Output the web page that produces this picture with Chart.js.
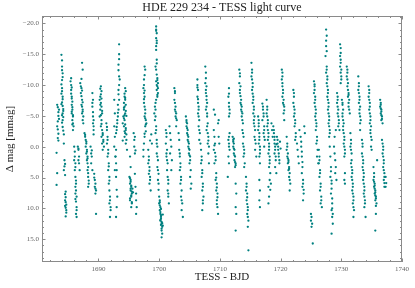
<!DOCTYPE html>
<html>
<head>
<meta charset="utf-8">
<script src="https://cdn.jsdelivr.net/npm/chart.js@4/dist/chart.umd.min.js"></script>
<style>
html,body{margin:0;padding:0;background:#fff;}
#wrap{width:415px;height:288px;}
</style>
</head>
<body>
<div id="wrap"><canvas id="c" width="415" height="288"></canvas></div>
<script>
const TITLE = 'HDE 229 234 - TESS light curve';
const X_LABEL = 'TESS - BJD';
const Y_LABEL = 'Δ mag [mmag]';
const xTicks = [1690, 1700, 1710, 1720, 1730, 1740];
const yTicks = [-20, -15, -10, -5, 0, 5, 10, 15];

// [BJD, Δmag]
const orbit1 = [
[1683.2,-6.8],[1683.3,-6.4],[1683.4,-5.0],[1683.3,-4.1],[1683.2,-3.3],[1683.4,-2.1],[1683.3,-1.4],[1683.1,1.0],[1683.2,4.3],[1683.1,6.2],
[1683.5,-6.0],[1683.4,-5.6],[1683.5,-4.5],[1683.3,-2.8],[1683.4,-1.0],
[1683.9,-14.9],[1684.0,-13.0],[1684.0,-12.4],[1684.1,-11.3],[1684.0,-10.8],[1684.0,-9.5],[1683.9,-8.6],[1684.1,-8.1],[1684.0,-7.2],[1684.1,-6.6],[1684.2,-6.1],[1684.1,-5.4],[1684.2,-4.8],[1684.0,-3.9],[1684.1,-3.2],[1684.2,-2.6],[1684.3,-0.5],[1684.4,2.2],[1684.5,2.8],[1684.3,3.8],[1684.5,4.6],[1684.6,7.3],[1684.5,7.7],[1684.6,9.0],[1684.7,9.4],[1684.6,9.9],[1684.7,10.3],[1684.6,11.3],
[1684.0,-14.0],[1684.1,-11.9],[1683.9,-10.1],[1684.0,-9.0],[1684.1,-7.7],[1683.9,-6.9],[1684.2,-5.8],[1684.0,-5.1],[1684.1,-4.3],[1684.3,-2.0],[1684.4,3.2],[1684.6,8.2],[1684.5,8.7],[1684.7,10.7],[1684.5,9.6],
[1685.5,-11.1],[1685.4,-10.6],[1685.5,-10.0],[1685.6,-9.6],[1685.5,-8.6],[1685.6,-8.1],[1685.7,-7.3],[1685.6,-6.8],[1685.7,-6.0],[1685.6,-5.4],[1685.8,-4.9],[1685.7,-4.3],[1685.8,-3.8],[1685.9,-3.3],[1685.8,-2.7],
[1685.5,-9.2],[1685.6,-7.8],[1685.7,-6.4],[1685.6,-5.7],[1685.8,-5.1],[1685.7,-3.6],
[1686.0,0.0],[1686.1,1.6],[1686.0,2.2],[1686.2,2.7],[1686.1,3.8],[1686.2,4.9],[1686.3,6.0],[1686.2,6.5],[1686.3,7.1],[1686.2,7.6],[1686.4,8.1],[1686.3,8.9],[1686.4,9.8],[1686.3,10.9],[1686.4,11.4],
[1686.1,0.8],[1686.2,3.3],[1686.3,5.5],[1686.2,8.5],[1686.4,10.3],
[1687.3,-13.6],[1687.4,-12.5],[1687.0,-10.3],[1687.1,-9.8],[1687.2,-9.5],[1687.1,-8.7],[1687.3,-7.6],[1687.2,-6.8],[1687.3,-6.5],[1687.4,-6.0],[1687.3,-5.4],[1687.5,-4.9],[1687.4,-4.3],
[1687.2,-11.0],[1687.3,-9.1],[1687.2,-8.2],[1687.4,-7.2],[1687.4,-5.7],[1687.5,-3.8],
[1686.6,0.0],[1686.7,0.3],[1686.7,0.5],[1686.8,1.6],[1686.7,2.2],[1686.8,2.7],[1686.9,3.8],
[1687.7,-2.2],[1687.8,-1.6],[1687.9,-1.1],[1688.0,-0.5],[1687.9,0.0],[1688.1,0.5],[1688.0,1.1],[1688.2,1.6],[1688.1,2.2],[1688.2,2.7],[1688.3,3.3],[1688.2,3.8],[1688.3,4.9],[1688.4,6.0],[1688.3,6.5],
[1687.8,-1.9],[1688.0,-0.8],[1688.1,0.8],[1688.2,1.9],[1688.3,4.3],[1688.4,5.5],
[1689.0,-8.7],[1689.1,-7.6],[1689.0,-6.5],[1689.1,-4.9],[1689.2,-4.3],[1689.1,-3.8],[1689.2,-3.3],[1689.2,-2.7],
[1688.7,0.0],[1688.8,1.1],[1688.9,1.6],[1688.8,2.7],[1689.0,3.8],[1689.3,4.4],[1689.4,5.4],[1689.5,6.0],[1689.4,6.5],[1689.6,7.1],[1689.5,7.6],[1689.6,10.9],
[1689.0,-7.1],[1689.1,-5.6],[1689.2,-2.0],[1688.9,0.6],[1689.3,5.0],[1689.5,6.8],
[1690.4,-9.8],[1690.5,-9.0],[1690.3,-8.1],[1690.2,-7.6],[1690.4,-7.1],[1690.5,-6.5],[1690.3,-6.0],[1690.6,-5.4],[1690.2,-4.9],[1690.5,-4.3],[1690.4,-3.3],[1690.6,-2.7],[1690.7,-2.2],[1690.5,-1.6],[1690.8,-1.1],[1690.6,-0.5],[1690.9,0.0],[1690.7,0.5],
[1690.3,-9.4],[1690.4,-8.5],[1690.5,-7.8],[1690.3,-6.8],[1690.6,-5.8],[1690.4,-5.1],[1690.5,-3.7],[1690.7,-1.9],[1690.8,-0.8],
[1691.3,-3.8],[1691.4,-2.7],[1691.5,-1.6],[1691.4,-0.5],[1691.6,0.5],[1691.5,1.6],[1691.7,2.7],[1691.6,3.8],[1691.8,4.9],[1691.7,6.0],[1691.8,7.1],[1691.9,8.1],[1691.8,9.2],[1692.0,10.3],[1691.9,11.4],
[1691.4,-3.2],[1691.5,-1.1],[1691.6,1.1],[1691.7,3.2],[1691.8,5.5],[1691.9,8.7],[1692.0,9.8],
[1692.6,-7.6],[1692.7,-5.4],[1692.6,-3.3],[1692.7,-1.6],[1692.6,0.0],[1692.8,1.6],[1692.7,3.8],
[1693.4,-16.6],[1693.4,-15.0],[1693.3,-13.3],[1693.4,-11.4],[1693.5,-10.9],[1693.3,-9.2],[1693.4,-7.6],[1693.3,-6.0],[1693.2,-4.9],[1693.1,-3.8],[1693.0,-2.7],[1692.9,-2.2],[1692.9,0.5],[1692.8,1.6],[1692.9,2.7],[1693.0,3.8],[1692.9,4.9],[1693.0,7.0],[1693.1,8.1],[1693.0,9.8],[1692.9,11.4],
[1693.4,-14.2],[1693.3,-12.4],[1693.4,-10.0],[1693.3,-8.5],[1693.2,-6.8],[1693.2,-5.5],[1693.1,-4.3],[1693.0,-3.2],
[1694.4,-9.5],[1694.5,-9.0],[1694.3,-8.1],[1694.4,-7.6],[1694.2,-7.1],[1694.5,-6.8],[1694.3,-6.5],[1694.2,-6.0],[1694.4,-5.4],[1694.1,-4.9],[1694.3,-4.3],[1694.0,-3.8],[1694.2,-3.3],[1694.5,-2.7],[1694.4,-2.2],[1694.3,-1.6],[1694.6,-1.1],[1694.5,-0.5],[1694.7,0.5],[1694.6,-5.0],[1694.0,-1.0],
[1694.3,-8.6],[1694.4,-7.9],[1694.2,-6.3],[1694.5,-5.8],[1694.3,-5.1],[1694.2,-4.6],[1694.4,-3.6],[1694.5,-3.0],[1694.6,-2.0],[1694.3,-2.5],
[1695.2,1.6],[1695.3,3.3],[1695.1,4.9],[1695.3,5.4],[1695.2,6.0],[1695.4,6.5],[1695.3,7.1],[1695.5,7.6],[1695.4,8.1],[1695.2,8.7],[1695.5,9.2],[1695.4,9.8],[1695.6,6.8],[1695.7,7.4],[1695.8,-2.2],[1695.9,-1.1],[1695.9,0.0],[1696.0,1.1],[1696.0,4.4],[1696.1,6.5],[1696.2,7.6],[1696.2,8.7],[1696.3,9.8],[1696.2,10.9],
[1695.2,5.1],[1695.3,5.7],[1695.4,6.3],[1695.3,6.8],[1695.5,7.3],[1695.4,7.9],[1695.2,8.4],[1695.5,9.0],[1696.0,-1.6],[1696.1,0.6]
];

const orbit2 = [
[1697.6,-13.0],[1697.7,-12.5],[1697.5,-10.9],[1697.4,-9.5],[1697.5,-8.7],[1697.6,-8.1],[1697.5,-7.1],[1697.6,-6.5],[1697.7,-5.4],[1697.6,-4.9],[1697.8,-4.3],[1697.7,-3.3],[1697.8,-2.5],[1697.6,-1.6],[1697.5,-0.5],[1697.4,0.5],[1697.4,1.6],[1697.9,-3.8],
[1697.6,-11.6],[1697.5,-10.0],[1697.6,-9.1],[1697.5,-7.7],[1697.7,-6.0],[1697.7,-4.6],[1697.8,-3.6],[1697.6,-2.1],
[1698.2,0.5],[1698.3,1.6],[1698.2,2.7],[1698.4,3.3],[1698.3,4.4],[1698.5,5.4],[1698.4,6.0],[1698.6,7.1],[1698.5,-1.0],[1698.7,-2.0],[1698.8,-0.5],
[1698.3,2.2],[1698.4,3.9],[1698.5,4.9],
[1699.5,-19.5],[1699.5,-19.0],[1699.6,-18.4],[1699.5,-17.6],[1699.6,-16.8],[1699.5,-15.7],[1699.6,-14.1],[1699.4,-13.0],[1699.5,-12.5],[1699.6,-11.7],[1699.7,-11.1],[1699.5,-10.6],[1699.8,-10.3],[1699.7,-9.8],[1699.6,-9.2],[1699.8,-8.7],[1699.7,-8.1],[1699.4,-7.1],[1699.3,-6.5],
[1699.5,-18.8],[1699.6,-17.2],[1699.5,-16.3],[1699.6,-13.5],[1699.7,-10.8],[1699.6,-10.0],[1699.8,-9.5],[1699.7,-8.4],[1699.5,-7.6],
[1699.4,-6.0],[1699.2,-5.4],[1699.3,-4.3],[1699.5,-3.3],[1699.4,-2.2],[1699.6,-1.1],[1699.7,0.0],[1699.6,1.1],[1699.8,2.2],[1699.7,3.3],[1699.9,4.4],[1699.8,5.4],[1699.9,7.0],
[1699.4,-4.9],[1699.5,-2.7],[1699.6,-0.5],[1699.7,1.6],[1699.8,3.8],[1699.9,6.0],
[1700.0,8.1],[1700.1,8.7],[1700.0,9.2],[1700.2,9.8],[1700.1,10.3],[1700.2,10.9],[1700.3,11.4],[1700.2,12.0],[1700.4,12.5],[1700.3,11.7],[1700.5,13.0],[1700.4,13.6],[1700.6,12.8],[1700.5,14.1],[1700.4,14.7],[1700.6,11.0],
[1700.1,9.5],[1700.2,10.6],[1700.3,11.1],[1700.2,11.9],[1700.4,12.2],[1700.3,12.7],[1700.5,12.4],[1700.4,13.3],[1700.1,9.0],[1700.3,10.1],
[1701.1,-2.7],[1701.2,-1.6],[1701.1,-0.5],[1701.3,0.5],[1701.2,1.6],[1701.4,2.7],[1701.3,3.8],[1701.4,4.9],[1701.5,6.0],[1701.4,7.1],[1701.5,8.1],[1701.6,9.2],
[1701.2,-2.2],[1701.2,1.1],[1701.3,2.2],[1701.5,5.4],[1701.5,7.6],
[1701.7,-3.3],[1701.8,-2.2],[1701.9,-1.1],[1702.0,0.0],[1701.8,1.1],[1702.1,2.2],[1702.0,3.8],
[1702.5,-9.5],[1702.6,-8.7],[1702.5,-7.6],[1702.7,-6.5],[1702.6,-6.0],[1702.8,-5.4],[1702.7,-4.9],[1702.9,-4.3],[1702.8,-3.3],
[1702.6,-9.0],[1702.6,-7.1],[1702.7,-5.7],[1702.8,-4.6],
[1703.2,-2.2],[1703.3,-1.1],[1703.3,0.5],[1703.4,1.6],[1703.5,2.7],[1703.4,3.8],[1703.6,4.9],[1703.5,6.0],[1703.7,7.1],[1703.6,8.1],[1703.8,9.2],[1703.7,10.3],[1703.9,11.4],
[1703.4,1.1],[1703.5,3.3],[1703.6,5.4],[1703.7,8.7],
[1704.4,-4.9],[1704.5,-4.3],[1704.6,-3.8],[1704.5,-3.3],[1704.7,-2.7],[1704.6,-2.2],[1704.8,-1.6],[1704.7,-1.1],[1704.9,-0.5],[1704.8,0.0],[1705.0,0.5],[1704.9,1.1],[1705.1,1.6],[1705.0,2.7],[1705.2,3.8],[1705.1,4.9],[1705.3,6.0],[1705.2,6.8],
[1704.5,-4.0],[1704.6,-3.0],[1704.7,-1.9],[1704.8,-0.8],[1704.9,0.3],[1705.0,1.4],[1705.1,2.2],
[1706.3,-10.9],[1706.3,-10.0],[1706.4,-9.2],[1706.3,-8.1],[1706.4,-7.1],[1706.5,-6.5],[1706.4,-5.4],[1706.6,-4.3],[1706.5,-3.3],[1706.7,-2.2],[1706.6,-1.1],[1706.8,-0.5],
[1706.3,-9.6],[1706.4,-7.7],[1706.5,-6.0],[1706.5,-4.9],[1706.6,-2.7],
[1706.9,0.5],[1707.0,1.6],[1706.9,2.7],[1707.1,3.8],[1707.0,4.9],[1707.2,6.0],[1707.1,7.1],[1707.3,8.1],[1707.2,9.2],[1707.1,10.3],
[1707.0,2.2],[1707.1,4.3],[1707.2,6.5],[1707.2,8.7],
[1707.6,-13.0],[1707.7,-11.1],[1707.6,-10.3],[1707.8,-9.8],[1707.7,-8.7],[1707.8,-7.6],[1707.9,-7.1],[1707.7,-6.0],[1707.9,-4.9],[1708.0,-3.8],[1707.8,-2.7],[1708.1,-1.6],[1708.0,-0.5],[1708.2,0.0],[1708.1,1.1],[1708.2,2.7],
[1707.7,-12.0],[1707.7,-9.2],[1707.8,-8.2],[1707.8,-6.5],[1707.9,-5.4],[1707.9,-3.3],[1708.0,-2.2],[1708.1,-1.0],
[1709.0,-6.0],[1709.2,-5.2],[1709.8,-4.3],[1709.7,-3.8],[1709.0,-2.7],[1709.1,-1.6],[1709.2,-0.5],[1709.0,0.5],[1709.3,1.6],[1709.1,2.7],[1709.4,4.3],[1709.3,5.4],[1709.5,6.0],[1709.4,7.1],[1709.6,7.6],[1709.5,8.7],[1709.6,9.8],[1709.7,10.9],[1709.8,-1.6],[1709.9,-0.5],
[1709.1,-0.2],[1709.2,1.0],[1709.3,2.2],[1709.4,5.0],[1709.5,6.6],[1709.6,8.2],[1709.5,9.3]
];

const orbit3 = [
[1711.5,-9.5],[1711.4,-8.1],[1711.5,-7.1],[1711.6,-6.0],[1711.5,-4.9],[1711.6,-2.2],[1711.4,-1.1],[1711.5,-0.5],[1711.6,0.5],[1711.4,1.6],[1711.5,2.7],[1711.3,4.9],
[1711.5,-8.6],[1711.5,-6.5],[1711.6,-5.4],[1711.5,-1.6],[1711.5,0.0],
[1712.1,-1.6],[1712.2,-1.1],[1712.3,-0.5],[1712.2,0.0],[1712.4,0.5],[1712.3,1.1],[1712.5,1.6],[1712.4,2.2],[1712.6,2.7],[1712.5,3.3],[1712.6,6.0],[1712.7,7.6],[1712.6,9.8],[1712.7,10.9],[1712.6,13.6],
[1712.2,-0.8],[1712.3,0.3],[1712.4,1.4],[1712.5,2.5],[1712.6,3.0],[1712.3,-1.3],
[1713.2,-12.5],[1713.3,-11.4],[1713.2,-10.3],[1713.4,-9.8],[1713.3,-8.7],[1713.5,-7.6],[1713.4,-7.1],[1713.6,-6.5],[1713.5,-6.0],[1713.7,-5.4],[1713.6,-4.9],[1713.8,-3.8],[1713.7,-2.7],[1713.9,-1.6],[1713.8,-0.5],[1714.0,0.5],[1713.9,1.6],[1714.1,2.7],[1714.0,3.3],
[1713.3,-11.9],[1713.3,-9.2],[1713.4,-8.2],[1713.5,-6.8],[1713.6,-5.7],[1713.7,-4.3],[1713.8,-2.2],[1713.9,0.0],[1714.0,1.1],
[1714.3,4.9],[1714.4,6.0],[1714.3,7.1],[1714.5,7.6],[1714.4,8.7],[1714.6,9.8],[1714.5,10.9],[1714.7,12.0],[1714.6,13.0],[1714.7,16.8],
[1714.4,6.5],[1714.5,8.2],[1714.5,9.3],[1714.6,10.3],[1714.6,11.4],
[1715.2,-13.6],[1715.3,-12.5],[1715.2,-11.4],[1715.4,-10.3],[1715.3,-9.2],[1715.5,-8.1],[1715.4,-7.1],[1715.6,-6.0],[1715.5,-5.4],[1715.7,-4.9],[1715.6,-3.8],[1715.8,-2.7],[1715.7,-1.6],[1715.9,-0.5],[1715.8,0.5],[1716.0,1.6],
[1715.3,-12.0],[1715.3,-10.9],[1715.4,-9.7],[1715.4,-8.6],[1715.5,-7.6],[1715.6,-6.5],[1715.6,-4.3],[1715.7,-3.3],[1715.8,-1.1],
[1716.3,-4.9],[1716.4,-3.8],[1716.3,-2.7],[1716.5,-1.6],[1716.4,-0.5],[1716.6,0.5],[1716.5,1.6],[1716.6,2.7],[1716.5,5.4],[1716.6,7.1],[1716.5,8.7],[1716.6,9.8],[1717.0,-7.0],[1717.1,-6.5],[1717.2,-5.4],[1717.0,-4.3],[1717.3,-3.3],[1717.2,-2.2],[1717.4,-1.1],[1717.3,0.0],
[1716.4,-4.3],[1716.4,-3.3],[1716.5,-2.2],[1716.5,-1.1],[1716.6,0.0],[1716.6,1.1],[1717.1,-6.0],[1717.2,-4.9],[1717.3,-2.7],[1717.3,-1.6],
[1717.7,-7.6],[1717.8,-6.5],[1717.7,-5.4],[1717.9,-4.3],[1717.8,-3.3],[1718.0,-2.2],[1717.9,-1.1],[1718.1,0.0],[1718.0,1.1],[1718.2,2.2],[1718.1,3.3],[1718.3,4.3],[1718.2,5.4],[1718.4,6.0],[1718.3,7.0],[1718.5,-3.8],[1718.6,-2.7],[1718.7,-1.6],[1718.0,6.5],[1718.1,8.1],[1718.0,9.2],
[1717.8,-6.0],[1717.8,-4.9],[1717.9,-3.8],[1717.9,-2.7],[1718.0,-1.6],[1718.1,-0.5],[1718.1,0.5],[1718.2,1.6],[1718.2,2.7],
[1718.8,-3.3],[1718.9,-2.2],[1719.0,-1.1],[1719.1,0.0],[1719.0,1.1],[1719.2,2.2],[1719.1,3.3],[1719.3,4.3],[1719.4,-1.6],[1719.5,-0.5],[1719.6,0.5],[1719.7,1.6],[1719.8,2.7],[1719.9,-0.8],[1720.0,0.3],
[1718.9,-2.7],[1719.0,-1.6],[1719.0,-0.5],[1719.1,0.5],[1719.2,1.6],[1719.5,-1.1],[1719.6,0.0],[1719.7,1.1],[1719.8,2.2],[1719.3,-0.4],
[1720.2,-12.5],[1720.3,-12.0],[1720.2,-10.9],[1720.3,-9.8],[1720.4,-9.2],[1720.3,-8.1],[1720.5,-7.6],[1720.4,-7.1],[1720.6,-6.5],[1720.5,-5.4],[1720.6,-4.3],
[1720.3,-11.4],[1720.3,-10.3],[1720.4,-8.7],[1720.5,-6.8],[1720.6,-5.9],
[1721.0,-1.6],[1721.1,-0.5],[1721.0,0.5],[1721.2,1.1],[1721.1,1.6],[1721.3,2.2],[1721.2,2.7],[1721.4,3.3],[1721.3,3.8],[1721.5,4.3],[1721.4,4.9],[1721.6,6.0],[1721.5,7.1],
[1721.1,0.0],[1721.2,1.9],[1721.3,2.5],[1721.4,3.6],[1721.5,5.4],
[1722.1,-9.2],[1722.2,-8.1],[1722.1,-7.1],[1722.3,-6.0],[1722.2,-4.9],[1722.4,-4.3],[1722.3,-3.3],[1722.5,-2.2],[1722.4,-1.1],
[1722.2,-8.7],[1722.2,-6.5],[1722.3,-5.4],[1722.4,-3.8],[1722.5,-1.6],
[1722.7,-0.5],[1722.8,0.5],[1722.9,1.6],[1723.0,2.7],[1723.1,-2.7],
[1723.3,-1.6],[1723.4,0.0],[1723.5,1.6],[1723.6,3.3],[1723.5,4.3],[1723.7,5.4],[1723.6,6.5],[1723.8,7.6],[1723.7,8.7],[1723.9,-3.3],[1724.0,-2.2],
[1723.4,-0.8],[1723.5,0.8],[1723.6,2.5],[1723.7,6.0],[1723.8,7.0]
];

const orbit4 = [
[1725.0,10.9],[1725.1,11.4],[1725.0,12.0],[1725.2,12.5],[1725.1,13.0],[1725.3,15.7],
[1725.5,-10.6],[1725.6,-9.8],[1725.5,-8.7],[1725.7,-7.6],[1725.6,-7.1],[1725.8,-6.0],[1725.7,-4.9],[1725.9,-3.8],[1725.8,-2.7],[1726.0,-1.6],[1725.9,-0.5],[1726.1,0.5],[1726.0,1.6],[1726.2,2.7],
[1725.6,-10.1],[1725.6,-9.2],[1725.7,-8.1],[1725.7,-6.5],[1725.8,-5.4],[1725.8,-4.3],[1725.9,-3.3],[1726.0,-1.0],
[1726.3,0.5],[1726.4,1.6],[1726.3,2.7],[1726.5,3.8],[1726.4,4.9],[1726.6,6.0],[1726.5,7.1],[1726.7,8.1],[1726.6,9.2],[1726.8,9.8],
[1726.4,2.2],[1726.5,4.3],[1726.6,6.5],[1726.7,8.7],
[1727.5,-19.0],[1727.6,-18.0],[1727.5,-16.3],[1727.4,-14.7],[1727.6,-13.0],[1727.5,-12.0],[1727.7,-11.4],[1727.6,-10.3],[1727.8,-9.2],[1727.7,-8.1],[1727.9,-7.1],[1727.8,-6.0],[1728.0,-4.9],[1727.9,-3.8],[1728.1,-2.7],[1728.0,-1.6],[1728.1,0.0],
[1727.5,-17.2],[1727.6,-15.5],[1727.6,-12.5],[1727.7,-10.9],[1727.7,-9.8],[1727.8,-8.7],[1727.8,-7.6],[1727.9,-6.5],[1727.9,-5.4],[1728.0,-4.3],[1728.0,-3.3],[1728.1,-2.2],
[1728.2,1.6],[1728.3,3.3],[1728.2,4.9],[1728.4,6.0],[1728.3,7.6],[1728.5,9.2],[1728.4,10.3],[1728.6,10.9],[1728.5,11.4],[1728.6,12.5],[1728.4,14.1],
[1728.3,4.0],[1728.4,5.5],[1728.4,6.8],[1728.5,8.4],[1728.5,10.0],
[1728.8,0.0],[1728.9,1.1],[1729.0,2.2],[1729.1,3.3],[1729.0,4.3],[1729.2,5.4],[1728.9,-1.6],[1729.1,-2.7],
[1729.3,-8.7],[1729.4,-8.1],[1729.3,-7.1],[1729.5,-6.0],[1729.4,-5.4],[1729.6,-4.3],[1729.5,-3.3],[1729.7,-2.7],[1729.8,-16.6],[1729.9,-16.0],[1729.8,-14.7],[1729.9,-13.6],[1729.8,-13.0],[1729.9,-12.0],[1730.0,-11.4],[1729.9,-10.3],
[1729.4,-7.6],[1729.4,-6.5],[1729.5,-4.9],[1729.6,-3.8],[1729.9,-15.2],[1729.9,-14.1],[1730.0,-12.5],[1730.0,-10.9],
[1730.1,-7.6],[1730.2,-6.8],[1730.3,-6.0],[1730.2,-4.9],[1730.4,-3.8],[1730.3,-2.7],[1730.5,-1.6],[1730.4,-0.5],[1730.6,0.5],[1730.5,1.6],[1730.6,4.3],[1730.5,5.4],[1730.6,6.0],
[1730.2,-7.1],[1730.2,-5.4],[1730.3,-4.3],[1730.3,-3.3],[1730.4,-2.2],[1730.5,-1.1],[1730.5,0.0],[1730.6,1.1],
[1730.9,-13.0],[1731.0,-12.0],[1730.9,-11.4],[1731.1,-10.3],[1731.0,-9.8],[1731.2,-8.7],[1731.1,-8.1],[1731.3,-7.6],[1731.2,-6.5],[1731.4,-5.4],
[1731.0,-12.5],[1731.0,-10.9],[1731.1,-9.2],[1731.2,-8.4],[1731.2,-7.1],[1731.3,-6.0],
[1731.5,-2.2],[1731.6,-1.1],[1731.5,0.0],[1731.7,1.1],[1731.6,2.7],[1731.8,3.8],[1731.7,4.9],[1731.9,6.0],[1731.8,7.1],[1732.0,8.1],[1731.9,9.2],[1732.1,10.3],[1732.0,11.4],
[1731.6,-0.5],[1731.6,0.5],[1731.7,2.2],[1731.7,3.3],[1731.8,4.3],[1731.8,5.4],[1731.9,6.5],[1731.9,7.6],[1732.0,8.7],[1732.0,9.8],
[1732.8,-11.4],[1732.9,-10.3],[1732.8,-9.2],[1733.0,-8.1],[1732.9,-7.1],[1733.1,-6.5],[1733.0,-5.4],[1733.2,-4.3],[1733.1,-2.7],
[1732.9,-9.8],[1732.9,-8.7],[1733.0,-7.6],[1733.0,-6.0],[1733.1,-4.9],[1733.1,-3.8],
[1733.4,-1.1],[1733.5,0.0],[1733.4,1.1],[1733.6,2.2],[1733.5,3.3],[1733.7,4.3],[1733.6,5.4],[1733.8,6.5],[1733.7,7.6],[1733.9,8.7],[1733.8,9.8],[1734.0,11.4],
[1733.5,-0.5],[1733.5,1.6],[1733.6,2.7],[1733.6,3.8],[1733.7,4.9],[1733.7,6.0],[1733.8,7.1],[1733.8,8.1],[1733.9,9.2],
[1734.5,-9.8],[1734.6,-9.2],[1734.5,-8.1],[1734.7,-7.1],[1734.6,-6.0],[1734.8,-4.9],[1734.7,-3.8],[1734.9,-3.3],[1734.8,-2.2],[1735.0,-1.1],[1734.9,0.0],[1735.0,0.5],
[1734.6,-8.7],[1734.6,-7.6],[1734.7,-6.5],[1734.7,-5.4],[1734.8,-4.3],[1734.8,-2.7],[1734.9,-1.6],
[1735.3,3.3],[1735.4,4.3],[1735.3,5.4],[1735.5,6.0],[1735.4,6.5],[1735.6,7.1],[1735.5,7.6],[1735.7,8.1],[1735.6,8.7],[1735.8,9.2],[1735.7,10.9],[1735.6,13.6],[1735.9,2.2],
[1735.4,4.9],[1735.4,5.7],[1735.5,6.3],[1735.5,6.8],[1735.6,7.4],[1735.6,7.9],[1735.7,8.4],[1735.7,9.6],
[1736.4,-7.6],[1736.5,-7.1],[1736.4,-6.5],[1736.6,-6.0],[1736.5,-5.4],[1736.7,-4.9],[1736.6,-4.3],[1736.8,-3.8],[1736.7,-1.1],[1736.9,0.0],[1736.8,1.1],[1737.0,2.2],[1736.9,3.3],[1737.1,4.3],[1737.0,5.4],[1737.1,6.5],
[1736.5,-6.8],[1736.5,-6.2],[1736.6,-5.7],[1736.6,-5.1],[1736.7,-4.5],[1736.8,-0.5],[1736.9,0.5],[1736.9,1.6],[1737.0,2.7],[1737.0,3.8],[1737.1,4.9],[1737.1,5.9],
[1737.3,4.9],[1737.4,5.9],[1737.3,6.5]
];

const X_MIN = 1680.7, X_MAX = 1740, Y_MIN = -21.2, Y_MAX = 18.7;
const X_MINOR = 2, Y_MINOR = 1;
const FRAME = '#8a8a8a';
const SERIF = "'Liberation Serif', 'DejaVu Serif', serif";

const points = orbit1.concat(orbit2, orbit3, orbit4).map(p => ({x: p[0], y: p[1]}));

const fmtY = v => (v < 0 ? '\u2212' : '') + Math.abs(v).toFixed(1);

const framePlugin = {
  id: 'frameTicks',
  afterDraw(chart) {
    const ctx = chart.ctx, a = chart.chartArea;
    const xs = chart.scales.x, ys = chart.scales.y;
    ctx.save();
    ctx.strokeStyle = FRAME;
    ctx.lineWidth = 1;
    ctx.strokeRect(a.left + 0.5, a.top + 0.5, a.right - a.left - 1, a.bottom - a.top - 1);
    ctx.beginPath();
    const major = 3.5, minor = 2;
    for (let v = Math.ceil(X_MIN / X_MINOR) * X_MINOR; v <= X_MAX; v += X_MINOR) {
      const px = Math.round(xs.getPixelForValue(v)) + 0.5;
      const L = xTicks.includes(v) ? major : minor;
      ctx.moveTo(px, a.bottom); ctx.lineTo(px, a.bottom - L);
      ctx.moveTo(px, a.top); ctx.lineTo(px, a.top + L);
    }
    for (let v = Math.ceil(Y_MIN / Y_MINOR) * Y_MINOR; v <= Y_MAX; v += Y_MINOR) {
      const py = Math.round(ys.getPixelForValue(v)) + 0.5;
      const L = yTicks.includes(v) ? major : minor;
      ctx.moveTo(a.left, py); ctx.lineTo(a.left + L, py);
      ctx.moveTo(a.right, py); ctx.lineTo(a.right - L, py);
    }
    ctx.stroke();
    ctx.fillStyle = '#222';
    ctx.font = "12px " + SERIF;
    ctx.textAlign = 'center';
    ctx.textBaseline = 'middle';
    ctx.fillText(TITLE, (a.left + a.right) / 2, 8);
    ctx.restore();
  }
};

new Chart(document.getElementById('c'), {
  type: 'scatter',
  data: {
    datasets: [{
      label: 'HDE 229 234',
      data: points,
      backgroundColor: '#008080',
      borderWidth: 0,
      pointRadius: 1.15,
      pointHoverRadius: 1.15
    }]
  },
  options: {
    responsive: false,
    animation: false,
    devicePixelRatio: 1,
    layout: {padding: {top: 16, right: 13, left: 0, bottom: 0}},
    plugins: {legend: {display: false}, title: {display: false}, tooltip: {enabled: false}},
    scales: {
      x: {
        type: 'linear', min: X_MIN, max: X_MAX,
        afterBuildTicks: s => { s.ticks = xTicks.map(v => ({value: v})); },
        afterFit: s => { s.height = 26; },
        grid: {display: false, drawTicks: false},
        border: {display: false},
        ticks: {color: '#666', font: {family: SERIF, size: 7}, padding: 3, maxRotation: 0, callback: v => String(v)},
        title: {display: true, text: X_LABEL, color: '#222', font: {family: SERIF, size: 11}, padding: {top: 0, bottom: 4.4}}
      },
      y: {
        type: 'linear', reverse: true, min: Y_MIN, max: Y_MAX,
        afterBuildTicks: s => { s.ticks = yTicks.map(v => ({value: v})); },
        afterFit: s => { s.width = 42; },
        grid: {display: false, drawTicks: false},
        border: {display: false},
        ticks: {color: '#666', font: {family: SERIF, size: 7}, padding: 3, callback: v => fmtY(v)},
        title: {display: true, text: Y_LABEL, color: '#222', font: {family: SERIF, size: 11}, padding: {top: 3.4, bottom: 0}}
      }
    }
  },
  plugins: [framePlugin]
});
</script>
</body>
</html>
